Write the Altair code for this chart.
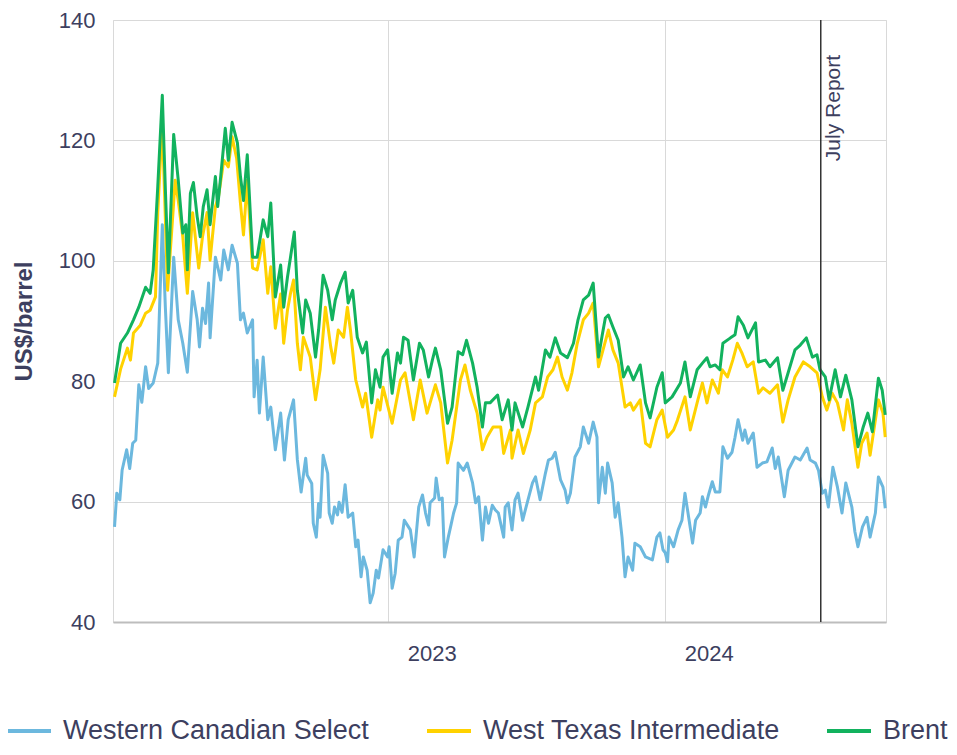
import altair as alt
import pandas as pd

# ---------------- data ----------------
# x values are days since 2022-01-01, y values in US$/barrel
series_names = ["Western Canadian Select", "West Texas Intermediate", "Brent"]
series_colors = ["#6cb8de", "#ffd200", "#12b25e"]

wcs_days = [
    4, 7, 11, 14, 20, 24, 28, 32, 36, 40,
    45, 49, 55, 61, 67, 71, 75, 82, 88, 94,
    100, 107, 113, 116, 120, 124, 128, 130, 137, 144,
    148, 154, 159, 166, 170, 174, 179, 186, 188, 192,
    195, 200, 206, 210, 216, 223, 228, 233, 240, 245,
    250, 256, 258, 264, 266, 270, 273, 275, 279, 285,
    287, 291, 294, 298, 300, 304, 308, 312, 318, 322,
    325, 329, 332, 337, 341, 345, 349, 352, 358, 364,
    366, 370, 374, 378, 383, 386, 390, 394, 399, 405,
    410, 414, 418, 420, 426, 428, 432, 436, 439, 444,
    447, 451, 455, 457, 464, 469, 476, 480, 484, 489,
    493, 497, 502, 506, 510, 517, 519, 523, 528, 532,
    536, 542, 548, 555, 559, 565, 572, 576, 581, 585,
    592, 598, 601, 605, 611, 618, 622, 629, 635, 640,
    642, 647, 651, 654, 660, 664, 668, 673, 677, 681,
    687, 690, 697, 704, 713, 719, 723, 727, 730, 733,
    735, 741, 747, 752, 756, 760, 766, 770, 776, 779,
    783, 787, 792, 796, 802, 806, 812, 818, 822, 826,
    832, 835, 839, 846, 851, 858, 864, 871, 875, 879,
    887, 892, 901, 908, 917, 921, 928, 932, 937, 941,
    945, 951, 957, 963, 968, 976, 980, 984, 990, 996,
    1000, 1007, 1011, 1017, 1020,
]
wcs_vals = [
    55.8, 61.4, 60.3, 65.2, 68.6, 65.5, 69.7, 70.2, 79.4, 76.5,
    82.4, 78.8, 79.7, 83, 106, 92.3, 81.4, 100.6, 90.2, 86.3,
    81.5, 94.9, 90.2, 85.7, 92.1, 89.6, 96.3, 87.2, 100.6, 96.8,
    101.8, 98.5, 102.6, 99.6, 90.2, 91.3, 88, 90.2, 77.4, 83.5,
    74.7, 84, 73.6, 75.7, 68.6, 74.7, 66.9, 73.6, 76.9, 67,
    61.6, 67.2, 64.4, 63, 56.4, 54.1, 59.7, 57.4, 67.7, 64.7,
    58.1, 56.4, 59.1, 57.8, 59.9, 58.2, 62.8, 57.4, 58.1, 52.5,
    53.6, 47.5, 50.8, 48.6, 43.2, 44.8, 48.6, 47.3, 52, 50.8,
    52.5, 45.6, 48.1, 53.6, 54.1, 56.9, 56.1, 55.3, 50.8, 59.1,
    61.1, 58.1, 56.1, 59.8, 60.6, 63.9, 60.3, 60.6, 50.8, 54.1,
    55.8, 58.1, 59.8, 66.4, 65.2, 66.4, 63.1, 59.8, 60.8, 53.6,
    59.1, 56.4, 59.4, 58.6, 58.1, 54.1, 59.1, 59.8, 55.3, 60.3,
    61.4, 56.9, 59.8, 63.1, 64.1, 60.3, 64.7, 66.9, 67.2, 68.2,
    63.6, 61.9, 59.8, 61.4, 67.4, 69.1, 72.4, 69.7, 73.2, 70.7,
    59.8, 65.7, 61.4, 66.4, 63.1, 57.4, 59.8, 54.1, 47.5, 50.8,
    48.6, 53.1, 52.5, 50.8, 50.3, 54.1, 54.8, 52, 51.5, 50,
    54.1, 52.5, 55.3, 56.9, 61.4, 58.1, 53.1, 56.9, 58.1, 60.8,
    59.1, 61.1, 63.3, 61.6, 61.6, 69.1, 67.2, 68.2, 70.7, 73.6,
    70.2, 71.9, 69.7, 71.4, 65.7, 66.4, 66.6, 68.9, 65.5, 67.4,
    60.8, 65.2, 67.4, 66.9, 68.9, 66.9, 66.4, 65.2, 61.4, 61.9,
    59.1, 65.7, 62.4, 58.1, 63.1, 59.1, 55, 52.5, 55.8, 57.4,
    54.1, 58.1, 64.1, 62.4, 58.9,
]

wti_days = [
    4, 12, 21, 25, 29, 38, 45, 51, 58, 61,
    67, 74, 84, 88, 94, 100, 107, 115, 120, 126,
    130, 137, 141, 148, 154, 159, 165, 170, 174, 179,
    186, 192, 200, 206, 210, 216, 223, 227, 232, 236,
    240, 245, 249, 253, 262, 269, 275, 282, 289, 293,
    299, 306, 311, 315, 322, 331, 335, 343, 351, 354,
    358, 370, 381, 387, 398, 407, 416, 427, 434, 443,
    449, 460, 466, 473, 482, 489, 495, 503, 513, 517,
    526, 528, 536, 543, 552, 559, 568, 575, 582, 588,
    594, 601, 607, 614, 622, 629, 635, 642, 648, 655,
    661, 668, 677, 684, 688, 697, 704, 710, 719, 726,
    733, 741, 746, 756, 763, 773, 779, 785, 792, 800,
    805, 812, 819, 825, 831, 838, 846, 853, 859, 868,
    878, 885, 892, 901, 912, 921, 930, 937, 943, 950,
    957, 965, 970, 976, 984, 989, 996, 1000, 1011, 1017,
    1020,
]
wti_vals = [
    77.4, 82, 85.5, 83.5, 88, 89.3, 91.3, 91.8, 94, 108,
    123, 95.1, 113.4, 110, 104, 94.6, 108, 98.8, 104, 108,
    100.1, 109, 110.6, 116.7, 115.6, 120.6, 117, 109.6, 104.3, 113.4,
    98.8, 98.5, 103.5, 94.6, 99, 88.8, 94.5, 86.3, 91.8, 94.6,
    96.8, 86.3, 81.9, 87.3, 84, 76.9, 81.9, 92.3, 85.7, 83,
    88.5, 87.3, 92.3, 88.5, 80.2, 75.7, 78, 70.7, 76.9, 75.2,
    79, 73, 80.2, 81.4, 73.6, 80.2, 74.7, 79.4, 76.4, 66.4,
    70.2, 80.2, 82.7, 78.5, 74.7, 68.6, 70.7, 72.4, 72.4, 68,
    71.9, 67.2, 71.9, 68, 71.9, 76.4, 77.4, 80.7, 81.9, 84,
    80.7, 78.5, 81.4, 86.3, 90.2, 91.3, 93, 82.4, 85.2, 88.5,
    85.2, 83, 75.7, 76.4, 75.2, 76.9, 69.7, 69.1, 73.6, 75.2,
    70.7, 71.9, 73.5, 77.4, 71.9, 76.9, 79.7, 76.4, 80.2, 78,
    81.9, 80.7, 83.5, 86.3, 84.7, 82.4, 83.2, 78, 78.9, 78,
    79.4, 73.2, 76.9, 80.7, 83.2, 82.4, 81.4, 77.4, 75.2, 78,
    76.4, 71.9, 76.9, 73, 65.7, 69.7, 71.4, 67.7, 76.9, 74.7,
    70.7,
]

brent_days = [
    4, 12, 21, 29, 36, 45, 51, 55, 61, 67,
    71, 75, 82, 88, 94, 98, 100, 104, 108, 113,
    117, 121, 126, 130, 137, 140, 144, 150, 154, 159,
    166, 170, 174, 179, 186, 192, 200, 206, 210, 216,
    223, 227, 232, 236, 241, 245, 252, 256, 262, 269,
    273, 279, 285, 291, 295, 302, 308, 312, 318, 324,
    331, 336, 343, 348, 354, 358, 364, 370, 377, 381,
    385, 391, 398, 406, 411, 418, 423, 427, 434, 443,
    449, 457, 463, 468, 476, 482, 489, 493, 499, 509,
    515, 523, 528, 532, 542, 549, 559, 563, 572, 578,
    585, 592, 601, 609, 615, 622, 629, 635, 642, 647,
    651, 655, 661, 668, 675, 681, 688, 697, 704, 710,
    719, 726, 730, 739, 750, 756, 763, 772, 779, 785,
    789, 796, 802, 806, 816, 822, 826, 833, 839, 849,
    853, 862, 868, 878, 885, 892, 901, 908, 916, 924,
    930, 934, 941, 946, 954, 961, 968, 976, 984, 991,
    997, 1003, 1011, 1016, 1020,
]
brent_vals = [
    79.7, 86.3, 88, 90.2, 92.3, 95.6, 94.6, 98.5, 112.3, 127.5,
    112, 98, 121, 113.4, 104.6, 106, 98.5, 111.2, 113, 107.3,
    104, 109, 111.8, 106, 114, 109, 114, 122, 116.7, 123,
    119.6, 114, 110, 117.6, 100.6, 100.6, 106.8, 104, 109.6, 94,
    99.3, 92.3, 97.3, 100.6, 104.8, 95.1, 88, 93.5, 91.3, 84,
    88.5, 97.6, 95.1, 90.2, 93.5, 96.3, 98.1, 93, 95.1, 87.3,
    84.7, 86.5, 76.4, 81.9, 79, 84, 85.2, 78, 84.7, 83,
    87.3, 86.8, 80.2, 86.3, 85.2, 80.7, 83.5, 85.5, 81.9, 73,
    75.7, 84.9, 84.4, 86.8, 83, 79, 72.4, 76.4, 76.4, 77.7,
    73.6, 76.9, 71.9, 76.4, 72.4, 75.7, 80.7, 78.5, 85.2, 84,
    87.2, 84.7, 83.9, 86.3, 90.2, 93.5, 94.3, 96.3, 84, 87.7,
    90.5, 91, 89, 86.8, 80.7, 82.4, 80.2, 82.7, 76.4, 73.9,
    79, 81.4, 76.4, 77.4, 79.7, 83.2, 77.4, 81.9, 83, 83.9,
    82.4, 82.7, 81.9, 86.3, 87.2, 87.7, 90.7, 89.3, 87.2, 89.7,
    83.2, 83.5, 82.4, 83.9, 78.5, 81.4, 85.2, 86, 87.2, 84,
    84.4, 81.9, 80.7, 76.9, 81.9, 77.4, 81, 76.9, 69.1, 72.4,
    74.7, 71.6, 80.5, 78.5, 74.4,
]

report_date = "2024-07-24"
report_label = "July Report"
x_start, x_end = "2022-01-03", "2024-10-18"
y_ticks = [40, 60, 80, 100, 120, 140]

# ---------------- tables ----------------
base = pd.Timestamp("2022-01-01")


def make_frame(name, days, vals):
    return pd.DataFrame({
        "date": base + pd.to_timedelta(days, unit="D"),
        "price": vals,
        "series": name,
    })


frames = [
    make_frame(series_names[0], wcs_days, wcs_vals),
    make_frame(series_names[1], wti_days, wti_vals),
    make_frame(series_names[2], brent_days, brent_vals),
]

FONT = "Liberation Sans"
TXT = "#3d3f5f"
GRID = "#d9d9d9"

x_scale = alt.Scale(domain=[pd.Timestamp(x_start).isoformat(), pd.Timestamp(x_end).isoformat()])
y_scale = alt.Scale(domain=[40, 140], nice=False)

x_enc = alt.X("date:T", scale=x_scale, axis=alt.Axis(
    values=[alt.DateTime(year=2023, month=1, date=1), alt.DateTime(year=2024, month=1, date=1)],
    format="%Y", title=None, ticks=False, labelAlign="left", labelOffset=19,
    labelPadding=21, labelBaseline="top", labelFontSize=22, labelFont=FONT,
    labelColor=TXT, domainColor="#bdbdbd", domainWidth=2, gridColor=GRID,
    labelFlush=False))
y_enc = alt.Y("price:Q", scale=y_scale, axis=alt.Axis(
    values=y_ticks, title="US$/barrel", ticks=False, domain=False,
    labelFontSize=22, labelFont=FONT, labelColor=TXT, labelPadding=18,
    gridColor=GRID, titleFont=FONT, titleFontSize=24, titleFontWeight="bold",
    titleColor=TXT, titleAngle=270, titleX=-82, titleY=301,
    titleAlign="center", titleBaseline="alphabetic"))

legend_x = [-108, 312, 712]
layers = []
for i, frame in enumerate(frames):
    layers.append(
        alt.Chart(frame).mark_line(strokeWidth=3, strokeJoin="round").encode(
            x=x_enc,
            y=y_enc,
            color=alt.Color("series:N",
                            scale=alt.Scale(domain=[series_names[i]], range=[series_colors[i]]),
                            legend=alt.Legend(
                                title=None, orient="none", direction="horizontal",
                                legendX=legend_x[i], legendY=687, symbolType="stroke",
                                symbolSize=1936, symbolStrokeWidth=4, labelFontSize=27,
                                labelFont=FONT, labelColor=TXT, labelOffset=10,
                                padding=0, labelLimit=500)),
        )
    )

rule = alt.Chart(pd.DataFrame({"date": [report_date]})).mark_rule(
    color="#333333", strokeWidth=1.5
).encode(x=alt.X("date:T", scale=x_scale))

label = alt.Chart(pd.DataFrame({"date": [report_date], "price": [134.2], "text": [report_label]})).mark_text(
    angle=270, align="right", baseline="alphabetic", dy=19, fontSize=21, font=FONT, color=TXT
).encode(x=alt.X("date:T", scale=x_scale), y=alt.Y("price:Q", scale=y_scale), text="text:N")

chart = alt.layer(*layers, rule, label).resolve_scale(
    color="independent"
).resolve_legend(
    color="independent"
).properties(
    width=773, height=602,
    autosize=alt.AutoSizeParams(type="none"),
    padding={"left": 105, "top": 12, "right": 63, "bottom": 125},
).configure_view(stroke=GRID, strokeWidth=1)

chart.save("out.html", embed_options={"renderer": "svg", "actions": False})
